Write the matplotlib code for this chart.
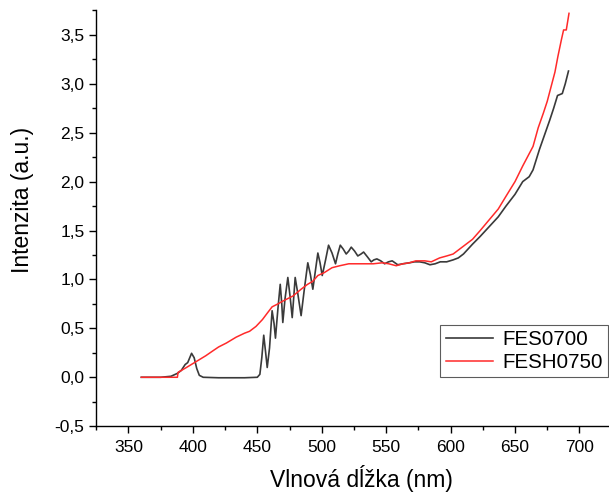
import matplotlib.pyplot as plt
from matplotlib.ticker import MultipleLocator, FuncFormatter

plt.rcParams["font.family"] = ["Liberation Sans", "DejaVu Sans"]

# FES0700 spectrum (wavelength nm, intensity a.u.)
wl_fes0700 = [360, 375, 383, 388, 391, 394, 396, 399, 401, 403, 405, 408, 420, 440,
              450, 452, 453.5, 455, 456.5, 457.7, 459.5, 461.5, 463, 464.1, 466,
              467.8, 469, 469.8, 471.5, 473.7, 475.5, 477.1, 478.3, 479.4, 481.5,
              484, 486.5, 489.2, 491.2, 493.1, 495, 497, 498.7, 500.4, 503, 505.3,
              508, 510.7, 512.5, 514.4, 516.7, 519, 521, 522.9, 525.5, 528, 530.5,
              532.5, 535.5, 538.4, 540.5, 542.8, 545.8, 548.8, 551.8, 554.7, 559,
              563, 568, 572, 576, 580, 584, 588, 592, 597, 602, 606, 610, 617, 623,
              630, 637, 643, 650, 656, 661, 664, 669, 673, 677, 680, 683, 686.7, 689,
              691.5]
int_fes0700 = [0.0, 0.0, 0.01, 0.04, 0.07, 0.13, 0.15, 0.245, 0.2, 0.09, 0.02, 0.0,
               -0.005, -0.005, 0.0, 0.03, 0.2, 0.43, 0.25, 0.1, 0.3, 0.68, 0.55, 0.4,
               0.7, 0.95, 0.75, 0.56, 0.8, 1.02, 0.82, 0.61, 0.82, 1.02, 0.85, 0.63,
               0.9, 1.17, 1.05, 0.9, 1.08, 1.27, 1.17, 1.04, 1.2, 1.35, 1.27, 1.16,
               1.26, 1.35, 1.31, 1.26, 1.29, 1.33, 1.29, 1.24, 1.26, 1.28, 1.23, 1.18,
               1.2, 1.21, 1.19, 1.16, 1.18, 1.19, 1.15, 1.16, 1.17, 1.18, 1.18, 1.17,
               1.15, 1.16, 1.18, 1.18, 1.2, 1.22, 1.26, 1.36, 1.44, 1.54, 1.64, 1.75,
               1.87, 2.0, 2.05, 2.12, 2.33, 2.48, 2.63, 2.75, 2.88, 2.9, 3.0, 3.13]

# FESH0750 spectrum
wl_fesh0750 = [360, 388, 388.5, 395, 400, 405, 410, 415.5, 420, 426, 433.6, 440, 444,
               449, 454, 458, 461.5, 466, 470, 477.6, 484, 489, 493, 497, 502, 508,
               514, 521, 530, 540, 547, 552, 557.8, 563, 568, 573, 580, 585, 591.5,
               597, 602, 607, 612, 617, 623, 630, 637, 643, 650, 656, 660, 664, 668,
               672, 675, 678, 681, 683.3, 686, 687.7, 689.8, 691.9]
int_fesh0750 = [0.0, 0.0, 0.05, 0.1, 0.14, 0.18, 0.22, 0.27, 0.31, 0.35, 0.41, 0.45,
                0.47, 0.52, 0.59, 0.66, 0.72, 0.75, 0.78, 0.83, 0.9, 0.95, 0.98, 1.04,
                1.07, 1.12, 1.14, 1.16, 1.16, 1.16, 1.17, 1.16, 1.14, 1.16, 1.17, 1.19,
                1.19, 1.18, 1.22, 1.24, 1.26, 1.31, 1.36, 1.41, 1.5, 1.61, 1.72, 1.85,
                2.0, 2.16, 2.26, 2.36, 2.55, 2.7, 2.82, 2.97, 3.12, 3.28, 3.45, 3.55,
                3.55, 3.72]

fig = plt.figure(figsize=(6.09, 4.95), dpi=100)
ax = fig.add_axes([0.158, 0.139, 0.84, 0.841])

ax.plot(wl_fes0700, int_fes0700, color="#3a3a3a", lw=1.2, label="FES0700")
ax.plot(wl_fesh0750, int_fesh0750, color="#ff2a2a", lw=1.1, label="FESH0750")

ax.set_xlim(325, 722)
ax.set_ylim(-0.5, 3.755)
ax.spines["top"].set_visible(False)
ax.spines["right"].set_visible(False)
for s in ("left", "bottom"):
    ax.spines[s].set_linewidth(1.0)

ax.xaxis.set_major_locator(MultipleLocator(50))
ax.xaxis.set_minor_locator(MultipleLocator(25))
ax.yaxis.set_major_locator(MultipleLocator(0.5))
ax.yaxis.set_minor_locator(MultipleLocator(0.25))
ax.yaxis.set_major_formatter(FuncFormatter(lambda v, p: f"{v:.1f}".replace(".", ",")))
ax.tick_params(which="major", direction="out", length=5, width=1, labelsize=12.5)
ax.tick_params(axis="x", which="major", pad=5)
ax.tick_params(which="minor", direction="out", length=3, width=1)

ax.set_xlabel("Vlnová dĺžka (nm)", fontsize=16.5, labelpad=7)
ax.set_ylabel("Intenzita (a.u.)", fontsize=16.5, labelpad=15)
ax.xaxis.label.set_x(0.518)
ax.yaxis.label.set_y(0.543)

leg = ax.legend(loc="lower right", bbox_to_anchor=(1.0, 0.118), fontsize=14.8,
                frameon=True, fancybox=False, handlelength=2.3, borderpad=0.25,
                labelspacing=0.2, handletextpad=0.45, borderaxespad=0)
leg.get_frame().set_edgecolor("#333333")
leg.get_frame().set_linewidth(0.8)

fig.savefig("out.png", dpi=100)
